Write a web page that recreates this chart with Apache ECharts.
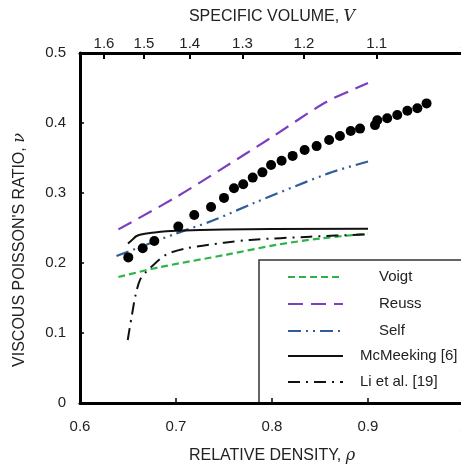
<!DOCTYPE html>
<html><head><meta charset="utf-8">
<script src="https://cdn.jsdelivr.net/npm/echarts@6/dist/echarts.min.js"></script>
<style>html,body{margin:0;padding:0;background:#fff}#c{width:461px;height:464px}</style>
</head><body><div id="c"></div>
<script>
// Top axis tick labels (specific volume V = 1/rho)
const volumeTicks = ['1.6', '1.5', '1.4', '1.3', '1.2', '1.1', '1'];

// Model curves (relative density rho, viscous Poisson's ratio nu)
const voigtRho = [0.64, 0.683, 0.753, 0.805, 0.85, 0.90];
const voigtNu  = [0.18, 0.194, 0.212, 0.226, 0.235, 0.242];

const reussRho = [0.64, 0.70, 0.746, 0.80, 0.855, 0.88, 0.90];
const reussNu  = [0.248, 0.294, 0.333, 0.380, 0.429, 0.445, 0.457];

const selfRho = [0.638, 0.70, 0.739, 0.78, 0.8587, 0.90];
const selfNu  = [0.21, 0.242, 0.261, 0.285, 0.328, 0.345];

const mcmRho = [0.65, 0.655, 0.659, 0.666, 0.673, 0.70, 0.75, 0.90];
const mcmNu  = [0.228, 0.234, 0.2386, 0.2415, 0.243, 0.246, 0.248, 0.249];

const liRho = [0.6497, 0.654, 0.658, 0.6625, 0.668, 0.673, 0.69, 0.711, 0.75, 0.777, 0.84, 0.90];
const liNu  = [0.09, 0.125, 0.155, 0.176, 0.186, 0.193, 0.212, 0.221, 0.229, 0.233, 0.2376, 0.241];

// Experimental points
const expRho = [0.6503, 0.6653, 0.6774, 0.7024, 0.719, 0.7365, 0.750, 0.7604, 0.770, 0.7799, 0.790, 0.799, 0.810, 0.8215, 0.834, 0.8465, 0.8595, 0.8708, 0.882, 0.8917, 0.9073, 0.9097, 0.920, 0.9305, 0.941, 0.9514, 0.961];
const expNu  = [0.208, 0.221, 0.2314, 0.252, 0.2686, 0.280, 0.293, 0.3067, 0.3124, 0.322, 0.3295, 0.340, 0.346, 0.353, 0.3614, 0.367, 0.3757, 0.3814, 0.3886, 0.392, 0.397, 0.404, 0.4067, 0.4114, 0.4176, 0.421, 0.428];

const zip = (a, b) => a.map((v, i) => [v, b[i]]);
const volumePos = volumeTicks.map(s => 1 / parseFloat(s));

const FONT = 'Liberation Sans, Arial, sans-serif';
const TXT = '#222';
const italic = { fontStyle: 'italic', fontFamily: 'DejaVu Serif, serif', fontSize: 16, color: TXT };

const chart = echarts.init(document.getElementById('c'), null, { renderer: 'canvas' });
chart.setOption({
  animation: false,
  backgroundColor: '#fff',
  textStyle: { fontFamily: FONT },
  grid: { left: 80, top: 53, width: 384, height: 350, containLabel: false, outerBoundsMode: 'none' },
  xAxis: [{
    type: 'value', position: 'bottom', min: 0.6, max: 1.0, interval: 0.1,
    name: 'RELATIVE DENSITY, {i|ρ}', nameLocation: 'middle', nameGap: 45,
    nameTextStyle: { fontSize: 16, color: TXT, fontFamily: FONT, rich: { i: italic } },
    axisLine: { show: true, onZero: false, lineStyle: { color: '#000', width: 3 } },
    axisTick: { show: true, inside: true, length: 5, lineStyle: { color: '#000', width: 1.5 } },
    axisLabel: { fontSize: 15, color: TXT, margin: 16, fontFamily: FONT, showMaxLabel: true },
    splitLine: { show: false }
  }, {
    type: 'value', position: 'top', min: 0.6, max: 1.0,
    name: 'SPECIFIC VOLUME, {i|V}', nameLocation: 'middle', nameGap: 28,
    nameTextStyle: { fontSize: 16, color: TXT, fontFamily: FONT, rich: { i: italic } },
    axisLine: { show: true, onZero: false, lineStyle: { color: '#000', width: 3 } },
    axisTick: { show: true, inside: true, length: 6, customValues: volumePos, lineStyle: { color: '#000', width: 2 } },
    axisLabel: {
      fontSize: 15, color: TXT, margin: 2, fontFamily: FONT, customValues: volumePos, showMaxLabel: true,
      formatter: v => { const i = volumePos.findIndex(p => Math.abs(p - v) < 1e-9); return i >= 0 ? volumeTicks[i] : ''; }
    },
    splitLine: { show: false }
  }],
  yAxis: {
    type: 'value', min: 0, max: 0.5, interval: 0.1,
    name: "VISCOUS POISSON'S RATIO, {i|ν}", nameLocation: 'middle', nameGap: 52,
    nameTextStyle: { fontSize: 16, color: TXT, fontFamily: FONT, padding: [0, 44, 0, 0], rich: { i: italic } },
    axisLine: { show: true, lineStyle: { color: '#000', width: 3 } },
    axisTick: { show: true, inside: true, length: 4, lineStyle: { color: '#000', width: 1.5 } },
    axisLabel: { fontSize: 15, color: TXT, margin: 14, fontFamily: FONT },
    splitLine: { show: false }
  },
  legend: [{
    data: ['Voigt', 'Reuss', 'Self'], orient: 'vertical', left: 287, top: 269, padding: 0,
    itemWidth: 55, itemHeight: 16, itemGap: 11, selectedMode: false,
    itemStyle: { opacity: 0, color: 'rgba(0,0,0,0)', borderWidth: 0 },
    textStyle: { fontSize: 15, color: TXT, fontFamily: FONT, lineHeight: 16, padding: [0, 0, 0, 31] }
  }, {
    data: ['McMeeking [6]', 'Li et al. [19]'], orient: 'vertical', left: 287, top: 348, padding: 0,
    itemWidth: 55, itemHeight: 16, itemGap: 10, selectedMode: false,
    itemStyle: { opacity: 0, color: 'rgba(0,0,0,0)', borderWidth: 0 },
    textStyle: { fontSize: 15, color: TXT, fontFamily: FONT, lineHeight: 16, padding: [0, 0, 0, 12] }
  }],
  graphic: [{
    type: 'rect', z: 0,
    shape: { x: 259, y: 260, width: 230, height: 143 },
    style: { fill: 'none', stroke: '#333', lineWidth: 1.5 }
  }],
  series: [
    { name: 'Voigt', type: 'line', data: zip(voigtRho, voigtNu), symbol: 'none', smooth: 0.3,
      lineStyle: { color: '#2db34a', width: 2.2, type: [7, 4] }, itemStyle: { color: '#2db34a' } },
    { name: 'Reuss', type: 'line', data: zip(reussRho, reussNu), symbol: 'none', smooth: 0.3,
      lineStyle: { color: '#7b3fc2', width: 2.2, type: [15, 8] }, itemStyle: { color: '#7b3fc2' } },
    { name: 'Self', type: 'line', data: zip(selfRho, selfNu), symbol: 'none', smooth: 0.3,
      lineStyle: { color: '#2f5d9a', width: 2.2, type: [13, 5, 2, 5, 2, 5] }, itemStyle: { color: '#2f5d9a' } },
    { name: 'McMeeking [6]', type: 'line', data: zip(mcmRho, mcmNu), symbol: 'none', smooth: 0.4,
      lineStyle: { color: '#111', width: 2 }, itemStyle: { color: '#111' } },
    { name: 'Li et al. [19]', type: 'line', data: zip(liRho, liNu), symbol: 'none', smooth: 0.3,
      lineStyle: { color: '#111', width: 2, type: [12, 6, 2, 6] }, itemStyle: { color: '#111' } },
    { name: 'Experiment', type: 'scatter', data: zip(expRho, expNu), symbol: 'circle', symbolSize: 10,
      itemStyle: { color: '#000', opacity: 1 }, z: 5 }
  ]
});
</script></body></html>
